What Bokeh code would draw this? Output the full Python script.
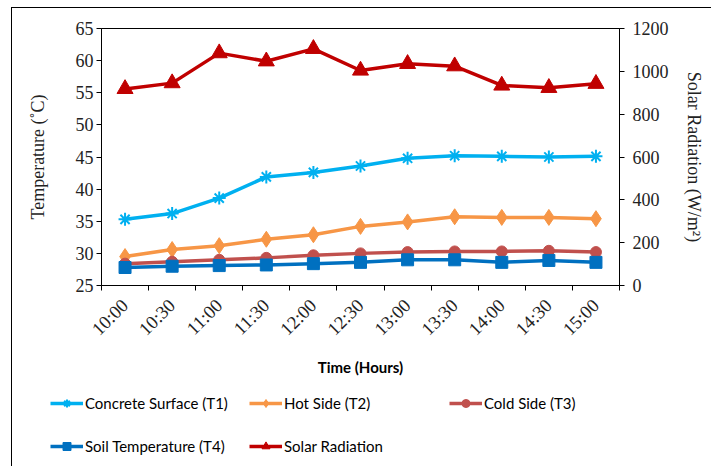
from bokeh.plotting import figure
from bokeh.models import (Range1d, LinearAxis, FixedTicker, Legend, LegendItem, Column)
from bokeh.embed import file_html
from bokeh.resources import INLINE

times = ["10:00", "10:30", "11:00", "11:30", "12:00", "12:30",
         "13:00", "13:30", "14:00", "14:30", "15:00"]
concrete_t1 = [35.3, 36.2, 38.6, 41.9, 42.6, 43.6, 44.8, 45.2, 45.1, 45.0, 45.1]
hot_t2 = [29.5, 30.6, 31.2, 32.2, 32.9, 34.2, 34.9, 35.7, 35.6, 35.6, 35.4]
cold_t3 = [28.4, 28.7, 29.0, 29.3, 29.7, 30.0, 30.2, 30.3, 30.3, 30.4, 30.2]
soil_t4 = [27.8, 28.0, 28.1, 28.2, 28.4, 28.6, 29.0, 29.0, 28.6, 28.9, 28.6]
solar = [918, 945, 1085, 1047, 1105, 1004, 1035, 1024, 934, 923, 942]

left_ticks = [25, 30, 35, 40, 45, 50, 55, 60, 65]
right_ticks = [0, 200, 400, 600, 800, 1000, 1200]

xs = [i + 0.5 for i in range(len(times))]

SERIF = "Liberation Serif"
SANS = "Lato"

p = figure(output_backend="svg", toolbar_location=None,
           frame_width=518, frame_height=257,
           min_border_left=89, min_border_top=20,
           min_border_right=93, min_border_bottom=90,
           x_range=Range1d(0, len(times)), y_range=Range1d(25, 65),
           y_axis_location=None, x_axis_location=None)
p.outline_line_color = "black"
p.outline_line_width = 1
p.xgrid.visible = False
p.ygrid.visible = False
p.background_fill_color = "white"
p.border_fill_color = "white"
p.extra_y_ranges = {"solar": Range1d(0, 1200)}

# Axes
yl = LinearAxis(ticker=FixedTicker(ticks=left_ticks, minor_ticks=[]),
                axis_label="Temperature (˚C)")
yr = LinearAxis(y_range_name="solar",
                ticker=FixedTicker(ticks=right_ticks, minor_ticks=[]),
                axis_label="Solar Radiation (W/m²)")
xb = LinearAxis(ticker=FixedTicker(ticks=xs, minor_ticks=list(range(len(times) + 1))),
                axis_label="Time (Hours)",
                major_label_overrides={x: t for x, t in zip(xs, times)})
for ax in (yl, yr):
    ax.major_label_text_font = SERIF
    ax.major_label_text_font_size = "18px"
    ax.major_label_text_color = "#222222"
    ax.axis_label_text_font = SERIF
    ax.axis_label_text_font_size = "18px"
    ax.axis_label_text_font_style = "normal"
    ax.axis_label_text_color = "#222222"
    ax.major_tick_in = 0
    ax.major_tick_out = 5
    ax.minor_tick_line_color = None
    ax.axis_line_color = "black"
    ax.major_tick_line_color = "black"
yl.axis_label_standoff = 25
yr.axis_label_standoff = 12
yl.major_label_standoff = 3
yr.major_label_standoff = 8

xb.major_label_text_font = SERIF
xb.major_label_text_font_size = "18.5px"
xb.major_label_text_color = "#222222"
xb.major_label_orientation = 0.785398
xb.major_tick_line_color = None
xb.major_tick_out = 0
xb.major_tick_in = 0
xb.minor_tick_in = 0
xb.minor_tick_out = 5
xb.minor_tick_line_color = "black"
xb.major_label_standoff = 12
xb.axis_label_text_font = SANS
xb.axis_label_text_font_size = "15px"
xb.axis_label_text_font_style = "bold"
xb.axis_label_text_color = "black"
xb.axis_label_standoff = 9
xb.axis_line_color = "black"

p.add_layout(yl, "left")
p.add_layout(yr, "right")
p.add_layout(xb, "below")

c1, c2, c3, c4, c5 = "#00B0F0", "#F79646", "#C0504D", "#0070C0", "#C00000"
lw = 3.5

series = [
    ("Concrete Surface (T1)", concrete_t1, c1, "asterisk", 13, "default"),
    ("Hot Side (T2)", hot_t2, c2, "diamond", 16, "default"),
    ("Cold Side (T3)", cold_t3, c3, "circle", 11, "default"),
    ("Soil Temperature (T4)", soil_t4, c4, "square", 12, "default"),
    ("Solar Radiation", solar, c5, "triangle", 16, "solar"),
]

def draw(fig, vals, col, mk, sz, rng):
    l = fig.line(xs, vals, line_color=col, line_width=lw, y_range_name=rng)
    if mk == "asterisk":
        m = fig.scatter(xs, vals, marker=mk, size=sz, line_color=col, line_width=2,
                        y_range_name=rng)
    else:
        m = fig.scatter(xs, vals, marker=mk, size=sz, color=col, y_range_name=rng)
    return l, m

for name, vals, col, mk, sz, rng in series:
    draw(p, vals, col, mk, sz, rng)

# Legend panel (second figure, renderers out of its view)
q = figure(output_backend="svg", toolbar_location=None,
           frame_width=700, frame_height=92,
           min_border_left=0, min_border_right=0, min_border_top=0, min_border_bottom=0,
           x_range=Range1d(-1000, -900), y_range=Range1d(0, 92),
           x_axis_location=None, y_axis_location=None)
q.outline_line_color = None
q.xgrid.visible = False
q.ygrid.visible = False
q.extra_y_ranges = {"solar": Range1d(0, 92)}

positions = [(38, 58), (237, 58), (437, 58), (38, 15), (237, 15)]
for (name, vals, col, mk, sz, rng), (lx, ly) in zip(series, positions):
    l, m = draw(q, vals, col, mk, sz, rng)
    lg = Legend(items=[LegendItem(label=name, renderers=[l, m])],
                location=(lx, ly), orientation="horizontal",
                padding=0, margin=0, spacing=0,
                border_line_color=None, background_fill_alpha=0,
                glyph_width=33, glyph_height=20, label_height=20,
                label_standoff=2, label_text_font=SANS,
                label_text_font_size="15px", label_text_color="black")
    q.add_layout(lg, "center")

layout = Column(children=[p, q], spacing=0)
layout.styles = {"margin-left": "11px", "margin-top": "7px",
                 "border-left": "1px solid black", "border-top": "1px solid black"}

open("out.html", "w").write(file_html(layout, INLINE))
